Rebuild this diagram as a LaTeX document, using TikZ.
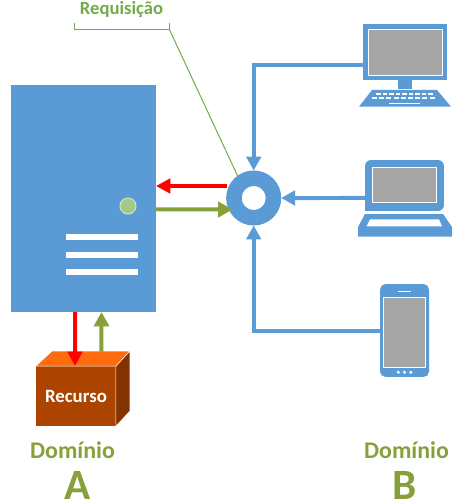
\documentclass[tikz,border=0pt]{standalone}
\usepackage{fontspec}
\setmainfont{Carlito}
\usetikzlibrary{arrows.meta}
\definecolor{devblue}{HTML}{5B9BD5}
\definecolor{reqgreen}{HTML}{70AD47}
\definecolor{domolive}{HTML}{88A03A}
\definecolor{screengray}{HTML}{A5A5A5}
\definecolor{boxfront}{HTML}{AC4400}
\definecolor{boxtop}{HTML}{FF6C10}
\definecolor{boxside}{HTML}{843200}

\begin{document}
\begin{tikzpicture}[x=0.02cm, y=-0.02cm,
    bluebox/.style={fill=devblue, inner sep=0pt, outer sep=0pt},
    screenbox/.style={draw=white, line width=0.02cm, fill=screengray, inner sep=0pt, outer sep=0pt},
    devline/.style={devblue, line width=0.08cm, -{Triangle[width=0.29cm, length=0.28cm]}},
    redline/.style={red, line width=0.08cm, -{Triangle[width=0.29cm, length=0.29cm]}},
    oliveline/.style={domolive, line width=0.08cm, -{Triangle[width=0.3cm, length=0.29cm]}},
    whitebar/.style={fill=white, inner sep=0pt, outer sep=0pt, minimum width=1.44cm, minimum height=0.12cm},
    domaintext/.style={text=domolive, inner sep=0pt, anchor=base}]

    \useasboundingbox (0,0) rectangle (465,500);

    % server
    \draw(83.5,198.5) node[bluebox, minimum width=2.9cm, minimum height=4.54cm] (server) {};
    \draw(128,206) node[circle, draw=white!70!reqgreen, line width=0.02cm, fill=reqgreen!65!white, minimum size=0.32cm, inner sep=0pt] (led) {};
    \draw(102,237) node[whitebar] (barA) {};
    \draw(102,255) node[whitebar] (barB) {};
    \draw(102,272) node[whitebar] (barC) {};

    % resource box
    \draw(76,396) node[fill=boxfront, minimum width=1.6cm, minimum height=1.2cm, inner sep=0pt, outer sep=0pt, text=white] (box) {\fontsize{10.7}{12}\selectfont\bfseries Recurso};
    \filldraw[draw=white, line width=0.01cm, fill=boxtop] (box.north west) -- ++(16,-15) -- ++(78,0) -- (box.north east) -- cycle;
    \filldraw[draw=white, line width=0.01cm, fill=boxside] (box.north east) -- ++(14,-15) -- ++(0,60) -- (box.south east) -- cycle;

    % hub
    \draw(253.7,198) node[circle, draw=devblue, fill=white, line width=0.31cm, minimum size=0.79cm, inner sep=0pt] (hub) {};

    % monitor
    \draw(405,52) node[bluebox, minimum width=1.68cm, minimum height=1.12cm] (monitor) {};
    \draw(405.5,52.3) node[screenbox, minimum width=1.47cm, minimum height=0.92cm] (monitorscreen) {};
    \fill[devblue] (398,80) rectangle (412,89);
    \fill[devblue] (372,90) -- (437,90) -- (451,106.7) -- (359,106.7) -- cycle;
    \foreach \k in {0,...,8} {
        \fill[white] (376+\k*6.5,92.7) rectangle ++(4.6,2.4);
        \fill[white] (372+\k*7.2,96.8) rectangle ++(5,2.4);
    }
    \fill[white] (389,102.6) rectangle (420,104.4);

    % laptop
    \draw(404.5,185.5) node[minimum width=1.58cm, minimum height=1.02cm, inner sep=0pt, outer sep=0pt] (laptop) {};
    \fill[devblue, rounded corners=0.12cm] (laptop.south west) -- (laptop.north west) -- (laptop.north east) -- (laptop.south east) [sharp corners] -- cycle;
    \draw(404.5,185) node[screenbox, minimum width=1.29cm, minimum height=0.71cm] (laptopscreen) {};
    \fill[devblue] (365,214) -- (443,214) -- (452,227) -- (452,236.7) -- (358,236.7) -- (358,227) -- cycle;
    \fill[white] (370,219.3) -- (439,219.3) -- (442,226.3) -- (366.7,226.3) -- cycle;

    % phone
    \draw(404.5,330.5) node[bluebox, rounded corners=0.11cm, minimum width=0.98cm, minimum height=1.86cm] (phone) {};
    \draw(404.4,332.5) node[screenbox, minimum width=0.85cm, minimum height=1.41cm] (phonescreen) {};
    \fill[white] (398,290.6) rectangle (411,291.6);
    \foreach \k in {398.3,404.5,410.8} {
        \fill[white] (\k,372.3) circle (0.034cm);
    }

    % connectors
    \draw[devline] ([yshift=-0.26cm]monitor.west) -| (hub.north);
    \draw[devline] ([yshift=-0.25cm]laptop.west) -- (hub.east);
    \draw[devline] (phone.west) -| (hub.south);
    \draw[redline] ([xshift=0.02cm, yshift=0.24cm]hub.west) -- ([yshift=0.24cm]hub.west -| server.east);
    \draw[oliveline] ([yshift=-0.22cm]server.east) -- ([xshift=0.13cm, yshift=-0.23cm]hub.west);
    \draw[redline] ([xshift=-0.17cm]server.south) -- ([xshift=-0.02cm]box.north);
    \draw[oliveline] ([xshift=0.51cm, yshift=0.29cm]box.north) -- ([xshift=0.36cm]server.south);

    % labels
    \draw(121.5,10) node[text=reqgreen, inner sep=0pt] (req) {\fontsize{10.6}{12}\selectfont\bfseries Requisição};
    \coordinate (reqleft) at (74.3,23);
    \coordinate (reqright) at (169.3,23);
    \draw[reqgreen, line width=0.02cm] (reqleft) -- (74.3,29.3) -- (169.3,29.3) -- (reqright);
    \draw[reqgreen, line width=0.02cm] (169.3,29.3) -- (hub.126);

    \draw(72.5,458) node[domaintext] (domA) {\fontsize{13.6}{15}\selectfont\bfseries Domínio};
    \draw(406.5,458) node[domaintext] (domB) {\fontsize{13.6}{15}\selectfont\bfseries Domínio};
    \draw(77.7,499) node[domaintext] (letterA) {\fontsize{24.6}{26}\selectfont\bfseries A};
    \draw(405,499) node[domaintext] (letterB) {\fontsize{24.6}{26}\selectfont\bfseries B};

\end{tikzpicture}
\end{document}
